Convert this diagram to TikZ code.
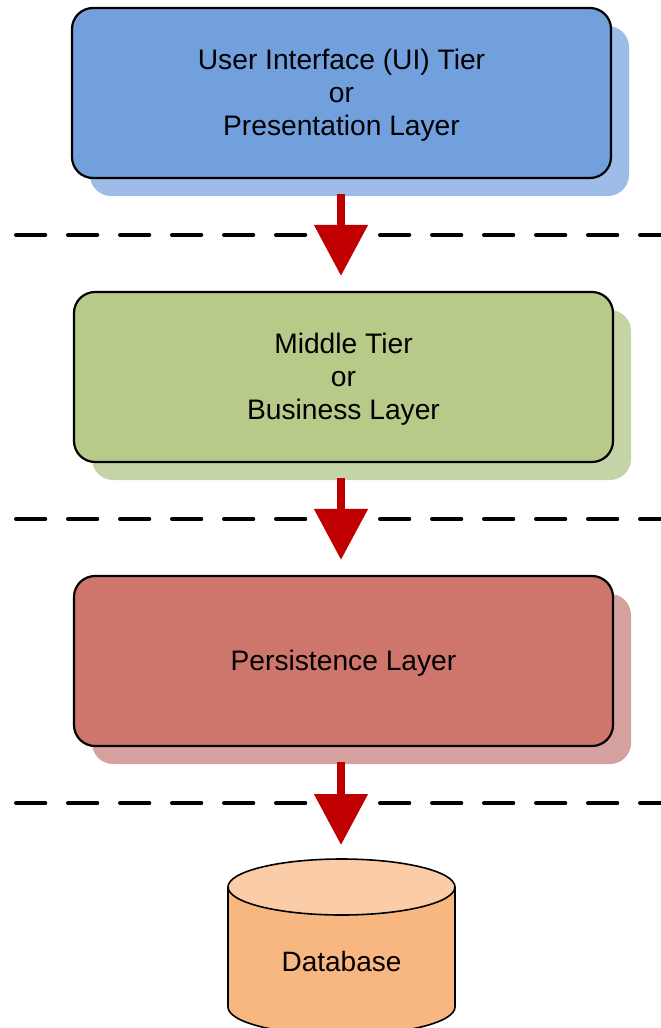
\documentclass[tikz,border=0pt]{standalone}
\usepackage{fontspec}
\setmainfont{Liberation Sans}
\usetikzlibrary{arrows.meta,shadows}

\definecolor{uiblue}{RGB}{114,160,220}
\definecolor{uishade}{RGB}{157,189,232}
\definecolor{midgreen}{RGB}{183,202,136}
\definecolor{midshade}{RGB}{197,212,166}
\definecolor{perred}{RGB}{206,117,108}
\definecolor{pershade}{RGB}{213,161,158}
\definecolor{dbtopfill}{RGB}{250,204,168}
\definecolor{dbbodyfill}{RGB}{248,182,128}
\definecolor{flowred}{RGB}{192,0,0}

% centred block of lines, drawn slightly lower than its nominal box
\newcommand{\tierlines}[1]{\raisebox{-3pt}[\height][\depth]{\begin{tabular}{@{}c@{}}#1\end{tabular}}}

\tikzset{
  tierbox/.style={draw=black, line width=2.2pt, rounded corners=21pt,
    minimum width=539pt, minimum height=170pt, align=center,
    font=\fontsize{28.2}{33}\selectfont},
  tiershade/.style={drop shadow={shadow xshift=18pt, shadow yshift=-18pt,
    fill=#1, opacity=1}},
  separator/.style={line width=4pt, line cap=round,
    dash pattern=on 29.3pt off 22.7pt},
  flow/.style={flowred, line width=8pt,
    -{Triangle[length=51pt,width=52pt]}},
  dbtext/.style={font=\fontsize{28}{33}\selectfont}
}

\begin{document}
\begin{tikzpicture}[x=1pt,y=-1pt]
\useasboundingbox (0,0) rectangle (661,1028);

% layer separators
\draw[separator] (16,235) -- (661,235);
\draw[separator] (16,519) -- (661,519);
\draw[separator] (16,803) -- (661,803);

% tiers
\node[tierbox, fill=uiblue, tiershade=uishade] (ui) at (341.5,93)
  {\tierlines{User Interface (UI) Tier\\or\\Presentation Layer}};
\node[tierbox, fill=midgreen, tiershade=midshade] (mid) at (343.5,377)
  {\tierlines{Middle Tier\\or\\Business Layer}};
\node[tierbox, fill=perred, tiershade=pershade] (per) at (343.5,661)
  {\tierlines{Persistence Layer}};

% database cylinder (its base runs just past the lower edge)
\coordinate (axis) at (341,0);
\coordinate (dbtop) at (341.5,859);
\fill[dbbodyfill] (228,887) -- (228,1007)
  arc[start angle=180, end angle=360, x radius=113.5pt, y radius=28pt]
  -- (455,887) -- cycle;
\draw[line width=1.6pt] (228,887) -- (228,1007)
  arc[start angle=180, end angle=360, x radius=113.5pt, y radius=28pt]
  -- (455,887);
\draw[line width=1.6pt, fill=dbtopfill] (341.5,887) ellipse[x radius=113.5pt, y radius=28pt];
\node[dbtext] (db) at (341.5,961) {Database};

% flow between tiers
\draw[flow] ([yshift=-15pt]ui.south -| axis) -- ([yshift=15pt]mid.north -| axis);
\draw[flow] ([yshift=-15pt]mid.south -| axis) -- ([yshift=15pt]per.north -| axis);
\draw[flow] ([yshift=-15pt]per.south -| axis) -- ([yshift=14pt]dbtop -| axis);
\end{tikzpicture}
\end{document}
